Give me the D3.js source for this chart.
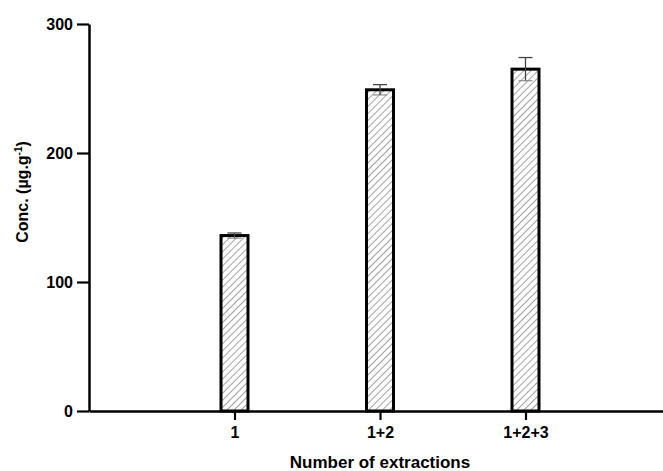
<html>
<head>
<title>Extractions</title>
<script src="https://d3js.org/d3.v7.min.js"></script>
<style>
  body { margin: 0; background: #fff; }
  text { font-family: "Liberation Sans", Arial, sans-serif; font-weight: bold; }
</style>
</head>
<body>
<div id="chart"></div>
<script type="text/javascript">
// data
var categories = ["1", "1+2", "1+2+3"];
var means = [136, 249, 265];
var errors = [2, 4, 9];
var yTicks = [0, 100, 200, 300];

var W = 663, H = 471;
var margin = {top: 24, right: 0, bottom: 60, left: 89};
var height = H - margin.top - margin.bottom;   // 387

var svg = d3.select("#chart").append("svg")
    .attr("width", W)
    .attr("height", H);

// hatch pattern for the bars
var defs = svg.append("defs");
defs.append("pattern")
    .attr("id", "hatch")
    .attr("patternUnits", "userSpaceOnUse")
    .attr("width", 5)
    .attr("height", 5)
    .attr("patternTransform", "rotate(45)")
  .append("line")
    .attr("x1", 0).attr("y1", 0)
    .attr("x2", 0).attr("y2", 5)
    .attr("stroke", "#606060")
    .attr("stroke-width", 1.2);

var g = svg.append("g")
    .attr("transform", "translate(" + margin.left + "," + margin.top + ")");

// categories sit at positions 1..3 on a 0..4 linear scale
var x = d3.scaleLinear().domain([0, 4]).range([0, 582]);
var y = d3.scaleLinear().domain([0, 300]).range([height, 0]);

var barW = 27;

// bars
g.selectAll("rect.bar")
    .data(means)
    .enter()
    .append("rect")
    .attr("class", "bar")
    .attr("x", function(d, i) { return x(i + 1) - barW / 2; })
    .attr("y", function(d) { return y(d); })
    .attr("width", barW)
    .attr("height", function(d) { return y(0) - y(d); })
    .attr("fill", "url(#hatch)")
    .attr("stroke", "#000")
    .attr("stroke-width", 3);

// error bars
var eb = g.selectAll("g.err")
    .data(means)
    .enter()
    .append("g")
    .attr("class", "err");
eb.append("line")
    .attr("x1", function(d, i) { return x(i + 1); })
    .attr("x2", function(d, i) { return x(i + 1); })
    .attr("y1", function(d, i) { return y(d - errors[i]); })
    .attr("y2", function(d, i) { return y(d + errors[i]); })
    .attr("stroke", "#444").attr("stroke-width", 1.3);
eb.append("line")
    .attr("x1", function(d, i) { return x(i + 1) - 7; })
    .attr("x2", function(d, i) { return x(i + 1) + 7; })
    .attr("y1", function(d, i) { return y(d + errors[i]); })
    .attr("y2", function(d, i) { return y(d + errors[i]); })
    .attr("stroke", "#444").attr("stroke-width", 1.3);
eb.append("line")
    .attr("x1", function(d, i) { return x(i + 1) - 7; })
    .attr("x2", function(d, i) { return x(i + 1) + 7; })
    .attr("y1", function(d, i) { return y(d - errors[i]); })
    .attr("y2", function(d, i) { return y(d - errors[i]); })
    .attr("stroke", "#777").attr("stroke-width", 1);

// Y axis
var yAxis = g.append("g")
    .call(d3.axisLeft(y).tickValues(yTicks).tickSize(12).tickPadding(4).tickSizeOuter(0));
yAxis.select(".domain").attr("stroke-width", 2.5);
yAxis.selectAll(".tick line").attr("stroke-width", 2.2);
yAxis.selectAll(".tick text").style("font-size", "16px").attr("fill", "#000");

// X axis
var xAxis = g.append("g")
    .attr("transform", "translate(0," + height + ")")
    .call(d3.axisBottom(x).tickValues([1, 2, 3])
        .tickFormat(function(d) { return categories[d - 1]; })
        .tickSize(9).tickPadding(7).tickSizeOuter(0));
xAxis.select(".domain").attr("stroke-width", 2.5);
xAxis.selectAll(".tick line").attr("stroke-width", 2.2);
xAxis.selectAll(".tick text").style("font-size", "16px").attr("fill", "#000");

// axis titles
g.append("text")
    .attr("x", x(2))
    .attr("y", height + 57)
    .attr("text-anchor", "middle")
    .style("font-size", "17px")
    .text("Number of extractions");

var yl = svg.append("text")
    .attr("transform", "translate(28,192) rotate(-90)")
    .attr("text-anchor", "middle")
    .style("font-size", "16px");
yl.append("tspan").text("Conc. (\u00b5g.g");
yl.append("tspan").attr("dy", -6).style("font-size", "10px").text("-1");
yl.append("tspan").attr("dy", 6).text(")");
</script>
</body>
</html>
